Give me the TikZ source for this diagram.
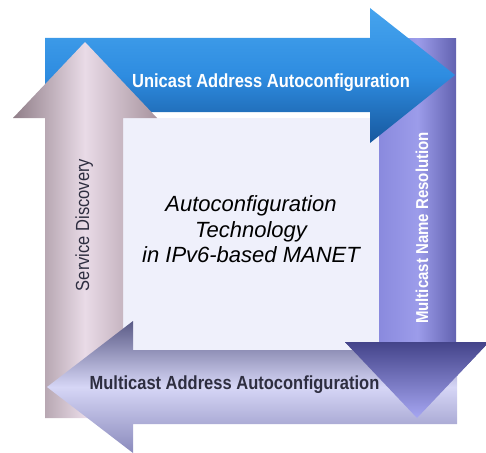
\documentclass[tikz,border=0pt]{standalone}
\usepackage{fontspec}
\setmainfont{Liberation Sans}
\usepackage{graphicx}
\usepackage{tikz}
\usepackage{xcolor}
\definecolor{boxfill}{HTML}{EFF0FB}
\definecolor{uniTop}{HTML}{46A4EE}
\definecolor{uniMid}{HTML}{2E8CE0}
\definecolor{uniBot}{HTML}{17589E}
\definecolor{sdEdgeL}{HTML}{907E88}
\definecolor{sdMid}{HTML}{E9DBE7}
\definecolor{sdEdgeR}{HTML}{A8949F}
\definecolor{nrLeft}{HTML}{8A8ADE}
\definecolor{nrMid}{HTML}{9C9CEA}
\definecolor{nrRight}{HTML}{6262B0}
\definecolor{nrHeadTop}{HTML}{44448A}
\definecolor{nrHeadBot}{HTML}{A6A6F2}
\definecolor{maTop}{HTML}{5A5A86}
\definecolor{maMid}{HTML}{D6D6F6}
\definecolor{maBot}{HTML}{8A8ABC}
\definecolor{darktext}{HTML}{2E2E40}
\newcommand{\tall}[1]{\scalebox{1}[1.15]{#1}}

\begin{document}
\begin{tikzpicture}[x=1pt,y=-1pt,
  lbl/.style={font=\bfseries\fontsize{16.5}{18}\selectfont, inner sep=0pt, anchor=base}]
\useasboundingbox (0,0) rectangle (486,452);
% centre square
\fill[boxfill] (123,118) rectangle (380,350);
% multicast name resolution (right, down)
\path[left color=nrLeft, right color=nrRight, middle color=nrMid] (379,39) rectangle (456,343);
\path[top color=nrHeadTop, bottom color=nrHeadBot] (345,342) -- (489,342) -- (417,418) -- cycle;
% unicast address autoconfiguration (top, right)
\path[top color=uniTop, bottom color=uniBot, middle color=uniMid]
  (45,38) -- (370,38) -- (370,8) -- (455,75) -- (370,143) -- (370,112) -- (45,112) -- cycle;
% service discovery (left, up)
\path[left color=sdEdgeL, right color=sdEdgeR, middle color=sdMid]
  (45,418) -- (45,118) -- (13,118) -- (85,42) -- (157,118) -- (123,118) -- (123,418) -- cycle;
% multicast address autoconfiguration (bottom, left)
\path[top color=maTop, bottom color=maBot, middle color=maMid]
  (457,350) -- (133,350) -- (133,321) -- (47,387) -- (133,453) -- (133,424) -- (457,424) -- cycle;
% head of the right arrow lies on top again
\path[top color=nrHeadTop, bottom color=nrHeadBot] (345,342) -- (489,342) -- (417,418) -- cycle;
% labels
\node[lbl, white] (unicast) at (271,87) {\tall{Unicast Address Autoconfiguration}};
\node[lbl, darktext] (multicast) at (234.5,389) {\tall{Multicast Address Autoconfiguration}};
\node[lbl, darktext, font=\fontsize{16.5}{18}\selectfont, rotate=90] (service) at (89,225) {\tall{Service Discovery}};
\node[lbl, white, font=\bfseries\fontsize{15}{17}\selectfont, rotate=90] (resolution) at (428,228) {\tall{Multicast Name Resolution}};
\node[align=center, inner sep=0pt, font=\itshape\fontsize{22}{25.5}\selectfont] (title) at (251,229.5)
  {Autoconfiguration\\Technology\\in IPv6-based MANET};
\end{tikzpicture}
\end{document}
